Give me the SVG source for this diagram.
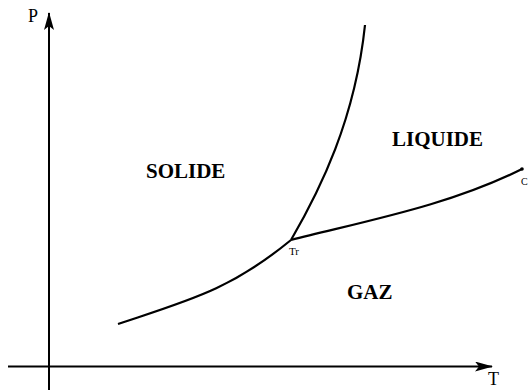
<svg xmlns="http://www.w3.org/2000/svg" width="530" height="390" viewBox="0 0 530 390">
<defs>
<marker id="arr" viewBox="0 0 18 10" refX="17" refY="5" markerWidth="18" markerHeight="10" markerUnits="userSpaceOnUse" orient="auto">
<path d="M0,0 L18,5 L0,10 L4,5 Z" fill="#000"/>
</marker>
<style>
.ax{stroke:#000;stroke-width:2;fill:none}
.cv{stroke:#000;stroke-width:2.2;fill:none}
.lbl{font-family:'Liberation Serif','Times New Roman',serif;fill:#000}
.reg{font-family:'Liberation Serif','Times New Roman',serif;font-weight:700;font-size:21px;fill:#000}
</style>
</defs>
<rect width="530" height="390" fill="#fff"/>
<g id="axes">
<line class="ax" x1="49" y1="390" x2="49" y2="13" marker-end="url(#arr)"/>
<line class="ax" x1="8" y1="366.5" x2="492" y2="366.5" marker-end="url(#arr)"/>
</g>
<g id="connectors">
<path class="cv" d="M118,324 C190,300 230,290 291,240"/>
<path class="cv" d="M291,240 C320,190 355,120 365,25"/>
<path class="cv" d="M291,240 C370,220 450,205 522,169"/>
</g>
<g id="critical"><circle cx="522" cy="169" r="1.8" fill="#000"/><text class="lbl" x="521" y="185" font-size="10">C</text></g>
<g id="triple"><text class="lbl" x="289" y="255" font-size="11">Tr</text></g>
<g id="labelP"><text class="lbl" x="28" y="22" font-size="18">P</text></g>
<g id="labelT"><text class="lbl" x="488" y="385" font-size="18">T</text></g>
<g id="solide"><text class="reg" x="146" y="178">SOLIDE</text></g>
<g id="liquide"><text class="reg" x="392" y="146">LIQUIDE</text></g>
<g id="gaz"><text class="reg" x="347" y="299">GAZ</text></g>
</svg>
